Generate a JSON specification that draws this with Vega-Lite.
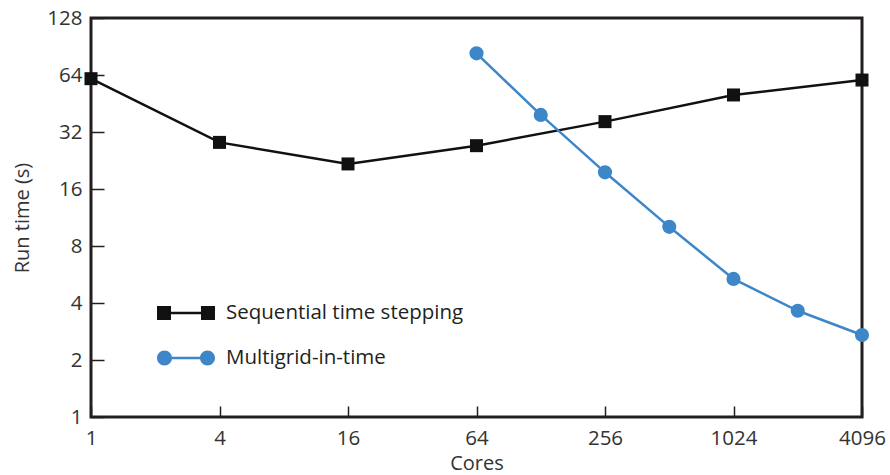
{
  "$schema": "https://vega.github.io/schema/vega-lite/v6.json",
  "width": 771,
  "height": 399,
  "autosize": "none",
  "padding": {"left": 91, "top": 18, "right": 28, "bottom": 58},
  "background": "white",
  "config": {
    "view": {"stroke": "#231f20", "strokeWidth": 3},
    "font": "Open Sans"
  },
  "data": {
    "values": [
      {"series": "Sequential time stepping", "cores": 1, "time": 61.2},
      {"series": "Sequential time stepping", "cores": 4, "time": 28.2},
      {"series": "Sequential time stepping", "cores": 16, "time": 21.7},
      {"series": "Sequential time stepping", "cores": 64, "time": 27.1},
      {"series": "Sequential time stepping", "cores": 256, "time": 36.3},
      {"series": "Sequential time stepping", "cores": 1024, "time": 50.2},
      {"series": "Sequential time stepping", "cores": 4096, "time": 60.2},
      {"series": "Multigrid-in-time", "cores": 64, "time": 83.3},
      {"series": "Multigrid-in-time", "cores": 128, "time": 39.4},
      {"series": "Multigrid-in-time", "cores": 256, "time": 19.6},
      {"series": "Multigrid-in-time", "cores": 512, "time": 10.1},
      {"series": "Multigrid-in-time", "cores": 1024, "time": 5.36},
      {"series": "Multigrid-in-time", "cores": 2048, "time": 3.64},
      {"series": "Multigrid-in-time", "cores": 4096, "time": 2.71}
    ]
  },
  "encoding": {
    "x": {
      "field": "cores",
      "type": "quantitative",
      "scale": {"type": "log", "base": 2, "domain": [1, 4096], "nice": false},
      "axis": {
        "values": [1, 4, 16, 64, 256, 1024, 4096],
        "format": "d",
        "title": "Cores",
        "grid": false,
        "domain": false,
        "tickSize": -11,
        "tickColor": "#231f20",
        "tickWidth": 1.5,
        "labelFontSize": 20.5,
        "labelFont": "Open Sans",
        "labelColor": "#333333",
        "labelPadding": 22,
        "labelFlush": false,
        "labelOverlap": false,
        "titleFont": "Open Sans",
        "titleFontSize": 20,
        "titleFontWeight": "normal",
        "titleColor": "#333333",
        "titlePadding": 5
      }
    },
    "y": {
      "field": "time",
      "type": "quantitative",
      "scale": {"type": "log", "base": 2, "domain": [1, 128], "nice": false},
      "axis": {
        "values": [1, 2, 4, 8, 16, 32, 64, 128],
        "format": "d",
        "title": "Run time (s)",
        "grid": false,
        "domain": false,
        "tickSize": -13,
        "tickColor": "#231f20",
        "tickWidth": 1.5,
        "labelFontSize": 20.5,
        "labelFont": "Open Sans",
        "labelColor": "#333333",
        "labelPadding": 22,
        "labelFlush": false,
        "labelOverlap": false,
        "titleFont": "Open Sans",
        "titleFontSize": 20,
        "titleFontWeight": "normal",
        "titleColor": "#333333",
        "titlePadding": 14
      }
    },
    "color": {
      "field": "series",
      "type": "nominal",
      "scale": {
        "domain": ["Sequential time stepping", "Multigrid-in-time"],
        "range": ["#111111", "#3d87c9"]
      },
      "legend": {
        "orient": "none",
        "legendX": 66,
        "legendY": 266,
        "title": null,
        "padding": 0,
        "symbolSize": 3364,
        "labelFontSize": 20.5,
        "labelFont": "Open Sans",
        "labelColor": "#231f20",
        "labelOffset": 11,
        "labelLimit": 400,
        "rowPadding": 5,
        "symbolStrokeWidth": 0,
        "encode": {
          "symbols": {
            "update": {
              "shape": {"signal": "datum.value === 'Multigrid-in-time' ? 'M-1,0A0.259,0.259 0 1,1 -0.482,0A0.259,0.259 0 1,1 -1,0Z M0.482,0A0.259,0.259 0 1,1 1,0A0.259,0.259 0 1,1 0.482,0Z M-0.485,-0.043H0.485V0.043H-0.485Z' : 'M-1,-0.241H-0.517V-0.043H0.517V-0.241H1V0.241H0.517V0.043H-0.517V0.241H-1Z'"},
              "size": {"value": 3364},
              "fill": {"scale": "color", "field": "value"},
              "fillOpacity": {"value": 1},
              "opacity": {"value": 1},
              "strokeWidth": {"value": 0}
            }
          }
        }
      }
    }
  },
  "layer": [
    {
      "mark": {"type": "line", "strokeWidth": 2.5, "clip": false}
    },
    {
      "transform": [{"filter": "datum.series === 'Sequential time stepping'"}],
      "mark": {"type": "point", "shape": "square", "size": 169, "filled": true, "opacity": 1, "clip": false}
    },
    {
      "transform": [{"filter": "datum.series === 'Multigrid-in-time'"}],
      "mark": {"type": "point", "shape": "circle", "size": 200, "filled": true, "opacity": 1, "clip": false}
    }
  ]
}
